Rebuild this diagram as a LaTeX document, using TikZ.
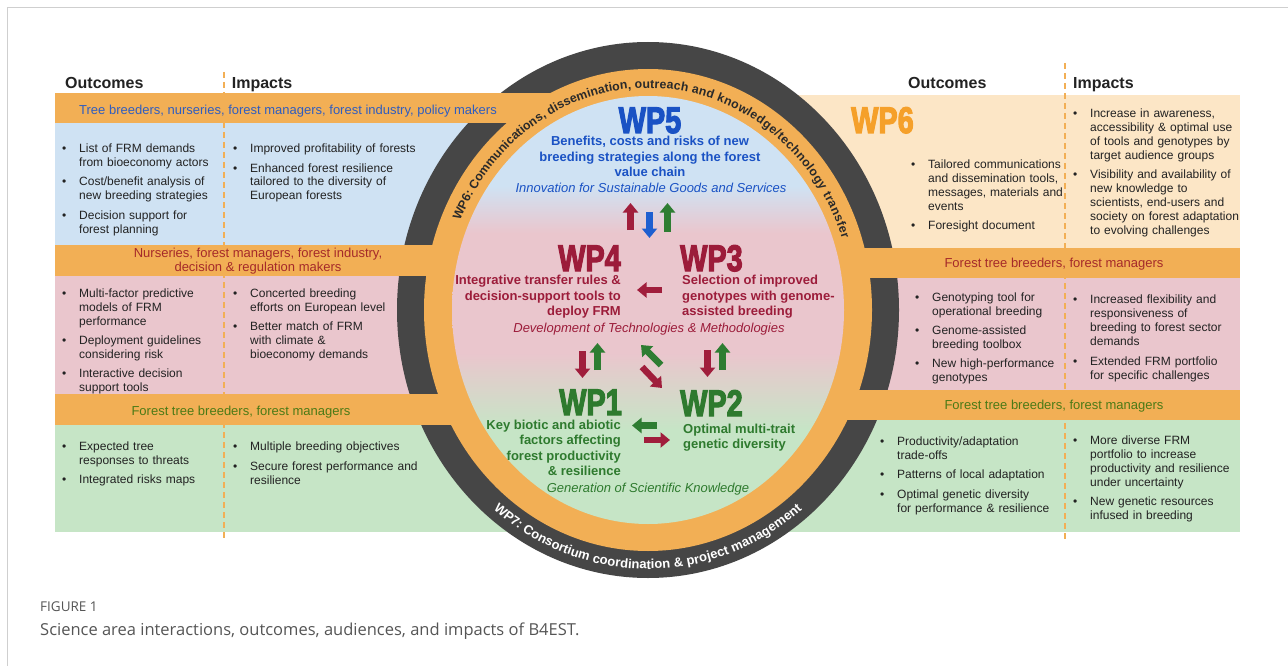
\documentclass[tikz,border=0pt]{standalone}
\usepackage{fontspec}
\usepackage{graphicx}
\setmainfont{Liberation Sans}
\newfontfamily\heavy{Liberation Sans}[UprightFont={* Bold}, FakeBold=3.5]
\newfontfamily\capfont{Open Sans}
\usetikzlibrary{arrows.meta}

\definecolor{panelblue}{HTML}{CFE2F3}
\definecolor{panelpink}{HTML}{EAC6CD}
\definecolor{panelgreen}{HTML}{C6E5C6}
\definecolor{panelpeach}{HTML}{FCE6C6}
\definecolor{band}{HTML}{F2AF55}
\definecolor{ring}{HTML}{464646}
\definecolor{wpblue}{HTML}{1A52C4}
\definecolor{wpred}{HTML}{9C1C3A}
\definecolor{wpgreen}{HTML}{2E7A2E}
\definecolor{wporange}{HTML}{F5A02A}
\definecolor{bandblue}{HTML}{2F5DC0}
\definecolor{bandred}{HTML}{A52A2A}
\definecolor{bandgreen}{HTML}{4B7A16}
\definecolor{txt}{HTML}{222222}
\definecolor{ringtext}{HTML}{2A2A2A}
\definecolor{capgray}{HTML}{555555}
\definecolor{framegray}{HTML}{CFCFCF}
\definecolor{arrred}{HTML}{A01E3C}
\definecolor{arrgreen}{HTML}{2E7D32}
\definecolor{arrblue}{HTML}{1E5FD0}

% inner disc: green at the bottom, pink in the middle, blue at the top
\pgfdeclareverticalshading{discfill}{100bp}{color(0bp)=(panelgreen); color(36bp)=(panelgreen); color(45bp)=(panelpink); color(59bp)=(panelpink); color(64.5bp)=(panelblue); color(100bp)=(panelblue)}

% bullet items
\newlength\bulind
\setlength\bulind{17pt}
\newcommand\bl[1]{\par\noindent\hangindent=\bulind\relax\hangafter=1\relax\rule{0pt}{10pt}\makebox[\bulind][l]{\textbullet}#1\par\vspace{5.3pt}}
\newcommand\wplab[1]{\scalebox{0.78}[1]{#1}}

% letters set one by one along an ellipse round (648,310);
% each list entry is letter/advance width in 1/1000 em
% #1 font, #2 colour, #3 #4 radii, #5 middle angle, #6 direction,
% #7 font size in pt, #8 total width in 1/100 em, #9 letter list
\newcommand\rtpre{a}
\newcommand\ringtext[9]{%
  \pgfmathsetmacro\rtvmid{100*sqrt((#3/100*sin(#5))^2+(#4/100*cos(#5))^2)}%
  \pgfmathsetmacro\rtstart{#5-(#6)*(#8/200*#7)/\rtvmid*180/pi}%
  \foreach \c/\w [count=\i, remember=\acc as \prev (initially 0), evaluate=\w as \acc using \prev+\w/10] in {#9} {%
    \pgfmathsetmacro\rtoffs{(\acc-\w/20)/100*#7}%
    \pgfmathsetmacro\rtguess{\rtstart+(#6)*\rtoffs/\rtvmid*180/pi}%
    \pgfmathsetmacro\rtmidang{(\rtstart+\rtguess)/2}%
    \pgfmathsetmacro\rtv{100*sqrt((#3/100*sin(\rtmidang))^2+(#4/100*cos(\rtmidang))^2)}%
    \pgfmathsetmacro\rtang{\rtstart+(#6)*\rtoffs/\rtv*180/pi}%
    \pgfmathsetmacro\rtrot{atan2((#6)*#4*cos(\rtang),(0-(#6))*#3*sin(\rtang))}%
    \node[inner sep=0pt, anchor=base, rotate=\rtrot, text=#2, font=#1] (\rtpre\i) at ({648+#3*cos(\rtang)},{310-#4*sin(\rtang)}) {\c};
  }%
}

\begin{document}
\begin{tikzpicture}[x=1pt, y=-1pt,
  bul/.style={anchor=north west, inner sep=0pt, text width=200pt, font=\fontsize{12}{14}\selectfont, text=txt},
  hdr/.style={anchor=base west, inner sep=0pt, font=\bfseries\fontsize{16}{16}\selectfont, text=txt},
  bandtxt/.style={inner sep=0pt, align=center, font=\fontsize{13}{14}\selectfont},
  wplabel/.style={inner sep=0pt, font=\heavy\fontsize{37}{37}\selectfont},
  wpdesc/.style={inner sep=0pt, font=\bfseries\fontsize{13}{15.5}\selectfont},
  wpital/.style={anchor=base, inner sep=0pt, font=\itshape\fontsize{13}{15}\selectfont},
  barrow/.style={line width=6.5pt, -{Triangle[width=15pt,length=9.5pt]}},
  divider/.style={draw=band, line width=1.5pt, dash pattern=on 6pt off 4pt},
]
\useasboundingbox (0,0) rectangle (1288,666);

% frame
\draw[framegray, line width=1.2pt] (7.5,666) -- (7.5,7.5) -- (1288,7.5);

% side panels
\fill[panelblue]  (55,123) rectangle (648,245);
\fill[panelpink]  (55,276) rectangle (648,394);
\fill[panelgreen] (55,425) rectangle (648,532);
\fill[panelpeach] (648,95) rectangle (1240,248);
\fill[panelpink]  (648,278) rectangle (1240,390);
\fill[panelgreen] (648,420) rectangle (1240,532);

% column dividers
\draw[divider] (224,72) -- (224,540);
\draw[divider] (1065,63) -- (1065,540);

% outer dark ring
\coordinate (ctr) at (648,310);
\fill[ring] (ctr) ellipse [x radius=251, y radius=268];

% audience bands crossing the dark ring
\fill[band] (55,93) rectangle (648,123);
\fill[band] (55,245) rectangle (648,276);
\fill[band] (648,248) rectangle (1240,278);
\fill[band] (55,394) rectangle (648,425);
\fill[band] (648,390) rectangle (1240,420);

% orange ring and inner disc
\fill[band] (ctr) ellipse [x radius=224, y radius=241];
\shade[shading=discfill] (ctr) ellipse [x radius=196, y radius=214];

% ring captions
\renewcommand\rtpre{top}
\ringtext{\bfseries\fontsize{12.3}{13}\selectfont}{ringtext}{205}{222}{87.5}{-1}{12.3}{4006.4}{W/944,P/667,6/556,:/333,{}/278,C/722,o/611,m/889,m/889,u/611,n/611,i/278,c/556,a/556,t/333,i/278,o/611,n/611,s/556,{,}/278,{}/278,d/611,i/278,s/556,s/556,e/556,m/889,i/278,n/611,a/556,t/333,i/278,o/611,n/611,{,}/278,{}/278,o/611,u/611,t/333,r/389,e/556,a/556,c/556,h/611,{}/278,a/556,n/611,d/611,{}/278,k/556,n/611,o/611,w/778,l/278,e/556,d/611,g/611,e/556,{/}/278,t/333,e/556,c/556,h/611,n/611,o/611,l/278,o/611,g/611,y/556,{}/278,t/333,r/389,a/556,n/611,s/556,f/333,e/556,r/389}
\renewcommand\rtpre{bot}
\ringtext{\bfseries\fontsize{13}{14}\selectfont}{white}{242}{259}{270}{1}{13}{2578.1}{W/944,P/667,7/556,:/333,{}/278,C/722,o/611,n/611,s/556,o/611,r/389,t/333,i/278,u/611,m/889,{}/278,c/556,o/611,o/611,r/389,d/611,i/278,n/611,a/556,t/333,i/278,o/611,n/611,{}/278,\&/722,{}/278,p/611,r/389,o/611,j/278,e/556,c/556,t/333,{}/278,m/889,a/556,n/611,a/556,g/611,e/556,m/889,e/556,n/611,t/333}

% column headers
\node[hdr] (hlo) at (65,88.5) {Outcomes};
\node[hdr] (hli) at (231.7,88.5) {Impacts};
\node[hdr] (hro) at (908,89) {Outcomes};
\node[hdr] (hri) at (1073,89) {Impacts};

% audience band texts
\node[bandtxt, anchor=base, text=bandblue] (b1) at (288,114.5) {Tree breeders, nurseries, forest managers, forest industry, policy makers};
\node[bandtxt, anchor=north, text=bandred] (b2) at (258,247.3) {\rule{0pt}{10pt}Nurseries, forest managers, forest industry,\\decision \& regulation makers};
\node[bandtxt, anchor=base, text=bandgreen] (b3) at (241,415.7) {Forest tree breeders, forest managers};
\node[bandtxt, anchor=base, text=bandred] (b4) at (1054,267.3) {Forest tree breeders, forest managers};
\node[bandtxt, anchor=base, text=bandgreen] (b5) at (1054,409) {Forest tree breeders, forest managers};

% left column lists
\node[bul] (lo1) at (62,138.5) {%
  \bl{List of FRM demands\newline from bioeconomy actors}%
  \bl{Cost/benefit analysis of\newline new breeding strategies}%
  \bl{Decision support for\newline forest planning}};
\node[bul] (li1) at (233,138.5) {%
  \bl{Improved profitability of forests}%
  \bl{Enhanced forest resilience\newline tailored to the diversity of\newline European forests}};
\node[bul] (lo2) at (62,282.8) {%
  \bl{Multi-factor predictive\newline models of FRM\newline performance}%
  \bl{Deployment guidelines\newline considering risk}%
  \bl{Interactive decision\newline support tools}};
\node[bul] (li2) at (233,282.8) {%
  \bl{Concerted breeding\newline efforts on European level}%
  \bl{Better match of FRM\newline with climate \&\newline bioeconomy demands}};
\node[bul] (lo3) at (62,436.2) {%
  \bl{Expected tree\newline responses to threats}%
  \bl{Integrated risks maps}};
\node[bul] (li3) at (233,436.5) {%
  \bl{Multiple breeding objectives}%
  \bl{Secure forest performance and\newline resilience}};

% right column lists
\node[wplabel, anchor=base west, text=wporange] (wp6) at (851,133) {\wplab{WP6}};
\node[bul] (ro1) at (911,154.2) {%
  \bl{Tailored communications\newline and dissemination tools,\newline messages, materials and\newline events}%
  \bl{Foresight document}};
\node[bul] (ri1) at (1073,103.5) {%
  \bl{Increase in awareness,\newline accessibility \& optimal use\newline of tools and genotypes by\newline target audience groups}%
  \bl{Visibility and availability of\newline new knowledge to\newline scientists, end-users and\newline society on forest adaptation\newline to evolving challenges}};
\node[bul] (ro2) at (915,286.8) {%
  \bl{Genotyping tool for\newline operational breeding}%
  \bl{Genome-assisted\newline breeding toolbox}%
  \bl{New high-performance\newline genotypes}};
\node[bul] (ri2) at (1073,289.5) {%
  \bl{Increased flexibility and\newline responsiveness of\newline breeding to forest sector\newline demands}%
  \bl{Extended FRM portfolio\newline for specific challenges}};
\node[bul] (ro3) at (880,431.2) {%
  \bl{Productivity/adaptation\newline trade-offs}%
  \bl{Patterns of local adaptation}%
  \bl{Optimal genetic diversity\newline for performance \& resilience}};
\node[bul] (ri3) at (1073,430.2) {%
  \bl{More diverse FRM\newline portfolio to increase\newline productivity and resilience\newline under uncertainty}%
  \bl{New genetic resources\newline infused in breeding}};

% work packages inside the disc
\node[wplabel, anchor=base, text=wpblue] (wp5) at (650,133) {\wplab{WP5}};
\node[wpdesc, anchor=north, align=center, text=wpblue] (wp5d) at (650,135.5)
  {\rule{0pt}{10pt}Benefits, costs and risks of new\\breeding strategies along the forest\\value chain};
\node[wpital, text=wpblue] (wp5i) at (651,192) {Innovation for Sustainable Goods and Services};

\node[wplabel, anchor=base east, text=wpred] (wp4) at (621,271) {\wplab{WP4}};
\node[wplabel, anchor=base west, text=wpred] (wp3) at (680,271) {\wplab{WP3}};
\node[wpdesc, anchor=north east, align=right, text=wpred] (wp4d) at (621,274.5)
  {\rule{0pt}{10pt}Integrative transfer rules \&\\decision-support tools to\\deploy FRM};
\node[wpdesc, anchor=north west, align=left, text=wpred] (wp3d) at (682,274.5)
  {\rule{0pt}{10pt}Selection of improved\\genotypes with genome-\\assisted breeding};
\node[wpital, text=wpred] (wp43i) at (649,332.5) {Development of Technologies \& Methodologies};

\node[wplabel, anchor=base east, text=wpgreen] (wp1) at (622,415) {\wplab{WP1}};
\node[wplabel, anchor=base west, text=wpgreen] (wp2) at (680,416) {\wplab{WP2}};
\node[wpdesc, anchor=north east, align=right, text=wpgreen] (wp1d) at (621,419)
  {\rule{0pt}{10pt}Key biotic and abiotic\\factors affecting\\forest productivity\\\& resilience};
\node[wpdesc, anchor=north west, align=left, text=wpgreen] (wp2d) at (683,423)
  {\rule{0pt}{10pt}Optimal multi-trait\\genetic diversity};
\node[wpital, text=wpgreen] (wp12i) at (648,492) {Generation of Scientific Knowledge};

% exchange arrows between work packages
\coordinate (a1s) at (630.5,230); \coordinate (a1e) at (630.5,203);
\coordinate (a2s) at (649.5,212); \coordinate (a2e) at (649.5,238);
\coordinate (a3s) at (667.5,232); \coordinate (a3e) at (667.5,203);
\coordinate (a4s) at (662,290);   \coordinate (a4e) at (637,290);
\coordinate (a5s) at (582.5,351); \coordinate (a5e) at (582.5,378);
\coordinate (a6s) at (597.5,370); \coordinate (a6e) at (597.5,343);
\coordinate (a7s) at (661,365);   \coordinate (a7e) at (641,345);
\coordinate (a8s) at (642,367);   \coordinate (a8e) at (662,388);
\coordinate (a9s) at (707.5,350); \coordinate (a9e) at (707.5,377);
\coordinate (a10s) at (722.5,370); \coordinate (a10e) at (722.5,343);
\coordinate (a11s) at (657,425.5); \coordinate (a11e) at (632,425.5);
\coordinate (a12s) at (644,440);   \coordinate (a12e) at (670,440);

\draw[barrow, arrred]   (a1s) -- (a1e);
\draw[barrow, arrblue]  (a2s) -- (a2e);
\draw[barrow, arrgreen] (a3s) -- (a3e);
\draw[barrow, arrred]   (a4s) -- (a4e);
\draw[barrow, arrred]   (a5s) -- (a5e);
\draw[barrow, arrgreen] (a6s) -- (a6e);
\draw[barrow, arrgreen] (a7s) -- (a7e);
\draw[barrow, arrred]   (a8s) -- (a8e);
\draw[barrow, arrred]   (a9s) -- (a9e);
\draw[barrow, arrgreen] (a10s) -- (a10e);
\draw[barrow, arrgreen] (a11s) -- (a11e);
\draw[barrow, arrred]   (a12s) -- (a12e);

% figure caption
\node[anchor=base west, inner sep=0pt, font=\capfont\fontsize{13.5}{14}\selectfont, text=capgray] (fig) at (40,611) {FIGURE 1};
\node[anchor=base west, inner sep=0pt, font=\capfont\fontsize{16.5}{18}\selectfont, text=capgray] (cap) at (40,635.5) {Science area interactions, outcomes, audiences, and impacts of B4EST.};
\end{tikzpicture}
\end{document}
